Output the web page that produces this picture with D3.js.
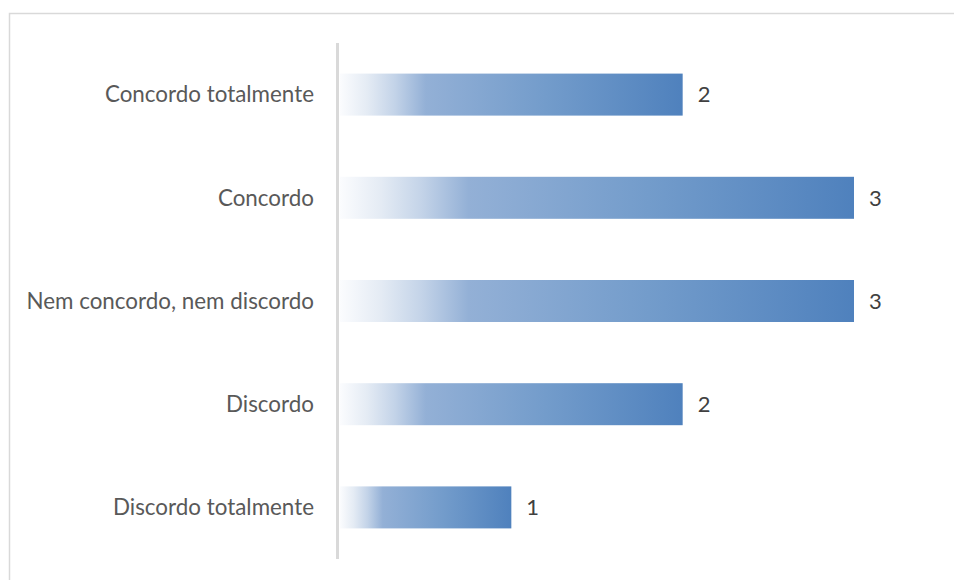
<!DOCTYPE html>
<html>
<head>
<meta charset="utf-8">
<script src="https://cdn.jsdelivr.net/npm/d3@7/dist/d3.min.js"></script>
<style>
  html, body { margin: 0; padding: 0; background: #fff; }
  svg { display: block; }
</style>
</head>
<body>
<svg id="chart" width="954" height="580"></svg>
<script>
// Responses per answer option
const categories = [
  "Concordo totalmente",
  "Concordo",
  "Nem concordo, nem discordo",
  "Discordo",
  "Discordo totalmente"
];
const values = [2, 3, 3, 2, 1];

const width = 954, height = 580;
const svg = d3.select("#chart");

// Outer chart frame (extends past the right and bottom edges)
svg.append("rect")
  .attr("x", 9.5).attr("y", 13.5)
  .attr("width", 1000).attr("height", 1000)
  .attr("fill", "#fff")
  .attr("stroke", "#d9d9d9")
  .attr("stroke-width", 1.5);

const plotLeft = 340, plotTop = 43, plotBottom = 559;

const x = d3.scaleLinear().domain([0, 3]).range([plotLeft, 854]);
const y = d3.scaleBand().domain(categories).range([plotTop, plotBottom]).paddingInner(0.593).paddingOuter(0.2965);

// Horizontal gradient, scaled to each bar's own length
const defs = svg.append("defs");
const grad = defs.append("linearGradient")
  .attr("id", "barGrad")
  .attr("x1", "0%").attr("x2", "100%").attr("y1", "0%").attr("y2", "0%");
[
  [0, "#fbfcfe"],
  [0.08, "#e4ebf4"],
  [0.16, "#c3d3e8"],
  [0.25, "#93b0d6"],
  [0.6, "#739ccb"],
  [1, "#4f81bd"]
].forEach(([o, c]) => grad.append("stop").attr("offset", o).attr("stop-color", c));

svg.append("g").selectAll("rect")
  .data(values)
  .join("rect")
  .attr("x", x(0))
  .attr("y", (d, i) => y(categories[i]))
  .attr("width", d => x(d) - x(0))
  .attr("height", y.bandwidth())
  .attr("fill", "url(#barGrad)");

// Vertical category axis line
svg.append("line")
  .attr("x1", plotLeft - 2.5).attr("x2", plotLeft - 2.5)
  .attr("y1", plotTop).attr("y2", plotBottom)
  .attr("stroke", "#d9d9d9").attr("stroke-width", 3);

const font = "Lato, 'Open Sans', sans-serif";

// Category labels
svg.append("g").selectAll("text")
  .data(categories)
  .join("text")
  .attr("x", 314)
  .attr("y", d => y(d) + y.bandwidth() / 2)
  .attr("dy", "0.35em")
  .attr("text-anchor", "end")
  .attr("font-family", font)
  .attr("font-size", 22.4)
  .attr("fill", "#595959")
  .text(d => d);

// Value labels
svg.append("g").selectAll("text")
  .data(values)
  .join("text")
  .attr("x", d => x(d) + 15)
  .attr("y", (d, i) => y(categories[i]) + y.bandwidth() / 2)
  .attr("dy", "0.35em")
  .attr("font-family", font)
  .attr("font-size", 22)
  .attr("fill", "#404040")
  .text(d => d);
</script>
</body>
</html>
